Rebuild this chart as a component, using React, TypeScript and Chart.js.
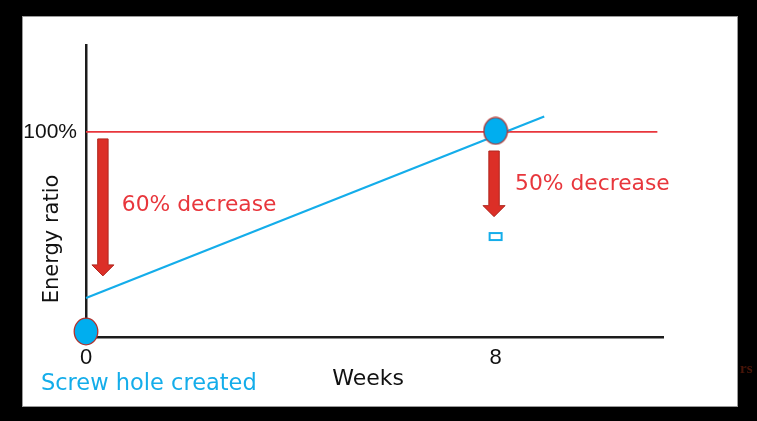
import { useEffect, useRef } from 'react';
import { Chart, registerables } from 'chart.js';

Chart.register(...registerables);

// ---- data ----
const weekTicks = [0, 8];
const ratioTicks = [100];
const baselineWeeks = [0, 11.16];
const baselineRatio = [100, 100];
const trendWeeks = [0, 8.95];
const trendRatio = [19, 107.5];
const markerWeeks = [0, 8];
const markerRatio = [2.7, 100.5];
const residualWeeks = [8];
const residualRatio = [49];
const arrowWeeks = [0.33, 7.97];
const arrowFrom = [96.6, 90.7];
const arrowTo = [29.8, 58.7];
const noteTexts = ['60% decrease', '50% decrease', 'Screw hole created'];
const noteWeeks = [0.7, 8.38, -0.88];
const noteRatio = [64.4, 74.4, -22.9];
const xTitle = 'Weeks';
const yTitle = 'Energy ratio';

const FONT = "'DejaVu Sans', sans-serif";
const TICK_FONT = "'Liberation Sans', sans-serif";
const RED = '#E8363C';
const BLUE = '#14ADEA';

function makeEllipse() {
  const c = document.createElement('canvas');
  c.width = 26;
  c.height = 29;
  const g = c.getContext('2d')!;
  g.beginPath();
  g.ellipse(13, 14.5, 11.8, 13.3, 0, 0, Math.PI * 2);
  g.fillStyle = '#00AEEF';
  g.fill();
  g.lineWidth = 1.3;
  g.strokeStyle = '#B3312C';
  g.stroke();
  return c;
}

function makeRect() {
  const c = document.createElement('canvas');
  c.width = 16;
  c.height = 11;
  const g = c.getContext('2d')!;
  g.fillStyle = '#ffffff';
  g.fillRect(1, 1, 14, 9);
  g.lineWidth = 2;
  g.strokeStyle = BLUE;
  g.strokeRect(2, 2, 12, 7);
  return c;
}

const backdrop = {
  id: 'backdrop',
  beforeDraw(chart: any) {
    const { ctx, width, height } = chart;
    ctx.save();
    ctx.fillStyle = '#000';
    ctx.fillRect(0, 0, width, height);
    ctx.fillStyle = '#fff';
    ctx.fillRect(22, 16, 716, 391);
    ctx.strokeStyle = '#9a9a9a';
    ctx.lineWidth = 1;
    ctx.strokeRect(22.5, 16.5, 715, 390);
    ctx.font = `bold 15px 'Liberation Serif', serif`;
    ctx.fillStyle = '#4a1508';
    ctx.textBaseline = 'middle';
    ctx.textAlign = 'left';
    ctx.fillText('rs', 740, 369);
    ctx.restore();
  },
};

const annotations = {
  id: 'annotations',
  afterDatasetsDraw(chart: any) {
    const { ctx } = chart;
    const xs = chart.scales.x;
    const ys = chart.scales.y;
    ctx.save();
    // arrows
    arrowWeeks.forEach((w, i) => {
      const px = xs.getPixelForValue(w);
      const y1 = ys.getPixelForValue(arrowFrom[i]);
      const y2 = ys.getPixelForValue(arrowTo[i]);
      const sw = 5.2, hw = 11, hl = 11;
      ctx.beginPath();
      ctx.moveTo(px - sw, y1);
      ctx.lineTo(px + sw, y1);
      ctx.lineTo(px + sw, y2 - hl);
      ctx.lineTo(px + hw, y2 - hl);
      ctx.lineTo(px, y2);
      ctx.lineTo(px - hw, y2 - hl);
      ctx.lineTo(px - sw, y2 - hl);
      ctx.closePath();
      ctx.fillStyle = '#DC2F27';
      ctx.fill();
      ctx.strokeStyle = '#B0271F';
      ctx.lineWidth = 1;
      ctx.stroke();
    });
    // notes
    ctx.textBaseline = 'middle';
    ctx.textAlign = 'left';
    noteTexts.forEach((t, i) => {
      ctx.font = `${i === 2 ? 22.5 : 21.8}px ${FONT}`;
      ctx.fillStyle = i === 2 ? BLUE : RED;
      ctx.fillText(t, xs.getPixelForValue(noteWeeks[i]), ys.getPixelForValue(noteRatio[i]));
    });
    // axis titles
    ctx.fillStyle = '#111';
    ctx.font = `22px ${FONT}`;
    ctx.textAlign = 'center';
    ctx.fillText(xTitle, xs.getPixelForValue(5.51), ys.getPixelForValue(-20.5));
    ctx.font = `21px ${FONT}`;
    ctx.save();
    ctx.translate(xs.getPixelForValue(-0.66), ys.getPixelForValue(47.8));
    ctx.rotate(-Math.PI / 2);
    ctx.fillText(yTitle, 0, 0);
    ctx.restore();
    ctx.restore();
  },
};

export default function App() {
  const ref = useRef<HTMLCanvasElement>(null);
  useEffect(() => {
    const ellipse = makeEllipse();
    const rect = makeRect();
    const chart = new Chart(ref.current!, {
      type: 'scatter',
      data: {
        datasets: [
          {
            data: markerWeeks.map((x, i) => ({ x, y: markerRatio[i] })),
            pointStyle: ellipse as any,
            showLine: false,
            clip: false as any,
          },
          {
            data: residualWeeks.map((x, i) => ({ x, y: residualRatio[i] })),
            pointStyle: rect as any,
            showLine: false,
            clip: false as any,
          },
          {
            data: trendWeeks.map((x, i) => ({ x, y: trendRatio[i] })),
            showLine: true,
            borderColor: BLUE,
            borderWidth: 2.2,
            pointRadius: 0,
            clip: false as any,
          },
          {
            data: baselineWeeks.map((x, i) => ({ x, y: baselineRatio[i] })),
            showLine: true,
            borderColor: RED,
            borderWidth: 1.8,
            pointRadius: 0,
            clip: false as any,
          },
        ],
      },
      options: {
        animation: false,
        responsive: false,
        devicePixelRatio: 1,
        layout: { padding: { top: 45, right: 94, left: 0, bottom: 0 } },
        plugins: { legend: { display: false }, tooltip: { enabled: false } },
        scales: {
          x: {
            type: 'linear',
            min: 0,
            max: 11.27,
            afterBuildTicks: (s: any) => {
              s.ticks = weekTicks.map((v) => ({ value: v }));
            },
            afterFit: (s: any) => {
              s.height = 84;
            },
            ticks: {
              font: { family: TICK_FONT, size: 22 },
              color: '#111',
              padding: 8,
              maxRotation: 0,
              autoSkip: false,
              callback: (v: any) => String(v),
            },
            grid: { display: false, drawTicks: false },
            border: { display: true, color: '#1c1c1c', width: 2.5 },
          },
          y: {
            type: 'linear',
            min: 0,
            max: 142.4,
            afterBuildTicks: (s: any) => {
              s.ticks = ratioTicks.map((v) => ({ value: v }));
            },
            afterFit: (s: any) => {
              s.width = 86;
            },
            ticks: {
              font: { family: TICK_FONT, size: 21 },
              color: '#111',
              padding: 9,
              callback: (v: any) => v + '%',
            },
            grid: { display: false, drawTicks: false },
            border: { display: true, color: '#1c1c1c', width: 2.5 },
          },
        },
      },
      plugins: [backdrop, annotations],
    });
    return () => chart.destroy();
  }, []);
  return (
    <div style={{ position: 'fixed', left: 0, top: 0, width: 757, height: 421 }}>
      <canvas ref={ref} width={757} height={421} style={{ display: 'block' }} />
    </div>
  );
}
